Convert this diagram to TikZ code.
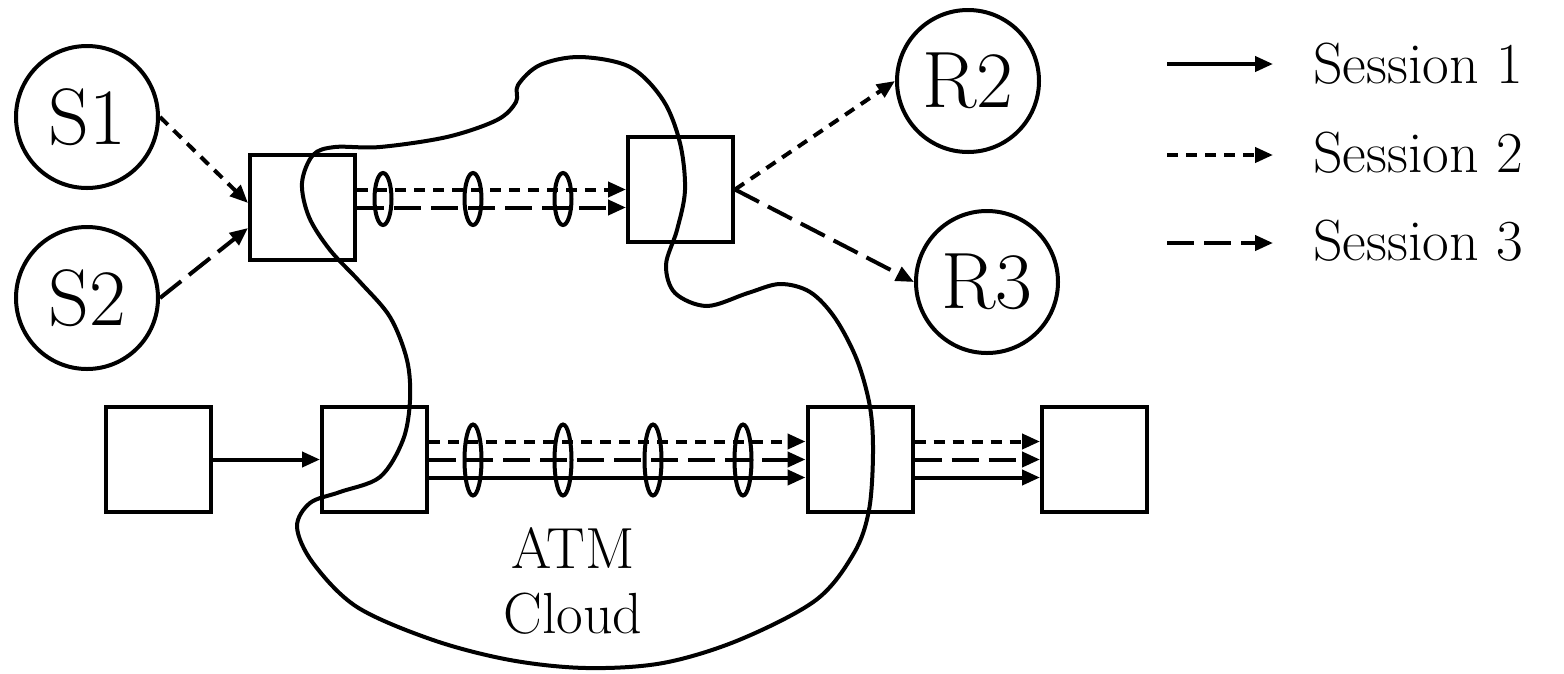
\documentclass[tikz,border=0pt]{standalone}
\usetikzlibrary{arrows.meta,calc,shapes.geometric}
\tikzset{
  lw/.style={line width=4pt},
  sw/.style={draw, lw, minimum width=105pt, minimum height=105pt, inner sep=0pt},
  hostc/.style={draw, lw, circle, minimum size=142pt, inner sep=0pt, font=\fontsize{80}{84}\selectfont},
  lbl/.style={font=\fontsize{58}{62}\selectfont, inner sep=0pt},
  tip/.style={-{Triangle[length=18pt,width=15pt]}},
  s1/.style={lw, tip},
  s2/.style={lw, tip, dash pattern=on 11pt off 8pt},
  s3/.style={lw, tip, dash pattern=on 27pt off 10pt},
  vc/.style={draw, lw},
}
\begin{document}
\begin{tikzpicture}[x=1pt,y=-1pt]
\useasboundingbox (0,0) rectangle (1564,673);

% hosts
\node[hostc] (S1) at (87,117) {S1};
\node[hostc] (S2) at (87,298) {S2};
\node[hostc] (R2) at (968,81) {R2};
\node[hostc] (R3) at (987,282) {R3};

% switches
\node[sw] (A) at (302.5,207.5) {};
\node[sw] (B) at (680.5,189.5) {};
\node[sw] (B1) at (158.5,459.5) {};
\node[sw] (B2) at (374.5,459.5) {};
\node[sw] (B3) at (860,459.5) {};
\node[sw] (B4) at (1094.5,459.5) {};

% cloud
\draw[lw, line join=round] plot[smooth cycle, tension=0.55] coordinates {
 (518,85) (540,65) (580,57) (630,67) (663,100) (680,143) (685,190) (677,230)
 (666,265) (675,293) (707,306) (748,293) (780,284) (810,292) (835,318)
 (857,360) (870,407) (873,453) (869,510) (854,553) (816,600) (739,640)
 (663,663) (586,668) (510,660) (433,640) (357,607) (313,563) (297,527)
 (310,503) (340,492) (380,477) (403,440) (410,400) (407,360) (390,317)
 (360,282) (330,250) (309,217) (302,183) (313,155) (335,147) (380,147)
 (447,137) (497,120) (516,102)
};

% access links
\draw[s2] (S1.east) -- ([yshift=4.5pt]A.west);
\draw[s3] (S2.east) -- ([yshift=-20.5pt]A.west);
\draw[s2] (B.east) -- (R2.west);
\draw[s3] (B.east) -- (R3.west);

% top VC bundle
\draw[s2] (A.east |- B.west) -- (B.west);
\draw[s3] (A.east) -- (B.west |- A.east);
\foreach \i/\x in {1/383,2/473,3/563} {
  \node[vc, ellipse, minimum width=17pt, minimum height=52pt, inner sep=0pt] (ta\i) at (\x,199) {};
}

% bottom chain
\draw[s1] (B1.east) -- (B2.west);
\draw[s2] ([yshift=18pt]B2.east) -- ([yshift=18pt]B3.west);
\draw[s3] (B2.east) -- (B3.west);
\draw[s1] ([yshift=-18pt]B2.east) -- ([yshift=-18pt]B3.west);
\draw[s2] ([yshift=18pt]B3.east) -- ([yshift=18pt]B4.west);
\draw[s3] (B3.east) -- (B4.west);
\draw[s1] ([yshift=-18pt]B3.east) -- ([yshift=-18pt]B4.west);
\foreach \i/\x in {1/473,2/563,3/653,4/743} {
  \node[vc, ellipse, minimum width=17pt, minimum height=71pt, inner sep=0pt] (ba\i) at (\x,460) {};
}

% cloud label
\node[lbl, anchor=base] (atm) at (573,568) {ATM};
\node[lbl, anchor=base] (cloud) at (573,633) {Cloud};

% legend
\coordinate (l1a) at (1167,64);  \coordinate (l1b) at (1273,64);
\coordinate (l2a) at (1167,155); \coordinate (l2b) at (1273,155);
\coordinate (l3a) at (1167,243); \coordinate (l3b) at (1273,243);
\draw[s1] (l1a) -- (l1b);
\draw[s2] (l2a) -- (l2b);
\draw[s3] (l3a) -- (l3b);
\node[lbl, anchor=base west] (t1) at (1313,83) {Session 1};
\node[lbl, anchor=base west] (t2) at (1313,172) {Session 2};
\node[lbl, anchor=base west] (t3) at (1313,260) {Session 3};
\end{tikzpicture}
\end{document}
